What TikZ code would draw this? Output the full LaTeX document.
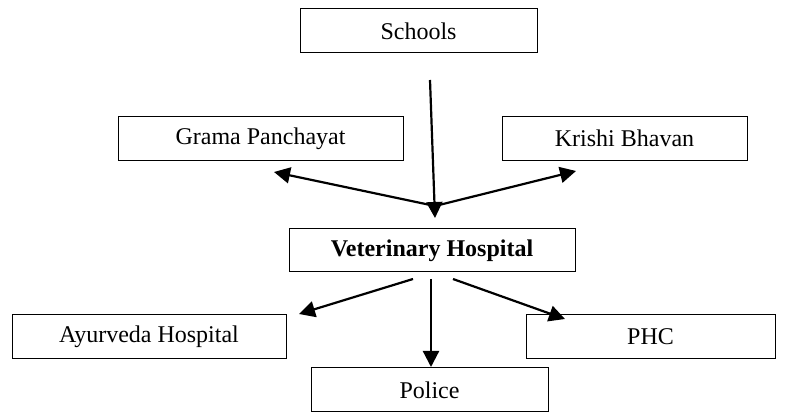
\documentclass[tikz,border=0pt]{standalone}
\usepackage{fontspec}
\setmainfont{Liberation Serif}
\usetikzlibrary{arrows.meta}

\begin{document}
\begin{tikzpicture}[x=0.5pt,y=-0.5pt,
 box/.style={draw,line width=0.5pt,minimum height=22pt,inner sep=0pt,font=\fontsize{12}{14}\selectfont},
 link/.style={line width=1.1pt,-{Triangle[length=8pt,width=8pt]}}]

\useasboundingbox (0,0) rectangle (803,416);

% boxes
\node[box,minimum width=118.5pt] (schools) at (418.5,31) {Schools};
\node[box,minimum width=142.5pt] (grama) at (260.5,138.5) {Grama Panchayat};
\node[box,minimum width=122.5pt] (krishi) at (624.5,138.5) {Krishi Bhavan};
\node[box,minimum width=143pt,minimum height=21.5pt] (vet) at (432,250.5) {\textbf{Veterinary Hospital}};
\node[box,minimum width=137pt] (ayur) at (149,337) {Ayurveda Hospital};
\node[box,minimum width=124.5pt] (phc) at (650.5,337) {PHC};
\node[box,minimum width=118.5pt] (police) at (429.5,390) {Police};

% free ends
\coordinate (top) at (430,80);
\coordinate (hub) at (435,218);
\coordinate (join) at (435,206);
\coordinate (gtip) at (274,172);
\coordinate (ktip) at (576,171);
\coordinate (vl) at (413,279);
\coordinate (vm) at (431,279);
\coordinate (vr) at (453,279);
\coordinate (atip) at (299,314);
\coordinate (mtip) at (431,367);
\coordinate (ptip) at (565,319);

% links
\draw[link] (top) -- (hub);
\draw[link] (join) -- (gtip);
\draw[link] (join) -- (ktip);
\draw[link] (vl) -- (atip);
\draw[link] (vm) -- (mtip);
\draw[link] (vr) -- (ptip);

\end{tikzpicture}
\end{document}
